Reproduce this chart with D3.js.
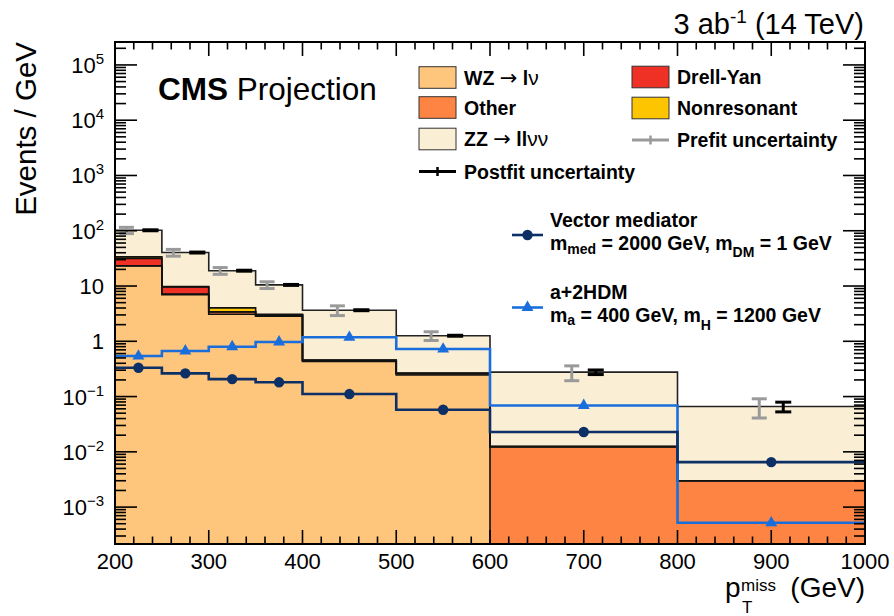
<!DOCTYPE html>
<html><head><meta charset="utf-8">
<script src="https://cdn.jsdelivr.net/npm/d3@7"></script>
<style>
body{margin:0;background:#fff}
svg{display:block}
text{font-family:"Liberation Sans",Arial,Helvetica,sans-serif;fill:#000}
</style>
</head><body>
<svg id="chart" width="894" height="616"></svg>
<script>
// ---------------- data ----------------
const binEdges   = [200, 250, 300, 350, 400, 500, 600, 800, 1000];
const wzValues   = [23.0, 7.0, 3.08, 2.85, 0.43, 0.245, 0, 0];
const otherValues= [0.3, 0.15, 0.32, 0.12, 0.02, 0.015, 0.0124, 0.003];
const dyValues   = [8.4, 2.45, 0.03, 0.03, 0.005, 0.002, 0, 0];
const nonresValues=[2.0, 0.15, 0.6, 0.07, 0.005, 0.003, 0, 0];
const zzValues   = [68.3, 30.6, 14.9, 7.4, 3.19, 0.995, 0.264, 0.063];
const prefitRel  = [0.13, 0.14, 0.14, 0.14, 0.20, 0.18, 0.30, 0.38];
const postfitRel = [0.02, 0.02, 0.02, 0.02, 0.02, 0.02, 0.095, 0.20];
const vectorMed  = [0.332, 0.263, 0.207, 0.181, 0.111, 0.0577, 0.0228, 0.00652];
const a2hdm      = [0.541, 0.667, 0.797, 0.97, 1.18, 0.724, 0.069, 0.00052];
const xTickValues = [200, 300, 400, 500, 600, 700, 800, 900, 1000];
const yTickExps   = [-3, -2, -1, 0, 1, 2, 3, 4, 5];
const layerNames  = ["WZ", "Other", "Drell-Yan", "Nonresonant", "ZZ"];

// ---------------- setup ----------------
const L = 115, R = 865, T = 42, B = 544;
const yMin = 2.15e-4, yMax = 2.6e5;
const svg = d3.select("#chart");
const x = d3.scaleLinear().domain([200, 1000]).range([L, R]);
const y = d3.scaleLog().domain([yMin, yMax]).range([B, T]);
const yc = v => y(Math.max(v, yMin));

const colors = {
  "WZ": "#fec57c", "Other": "#fd8442", "Drell-Yan": "#ee3124",
  "Nonresonant": "#fcc500", "ZZ": "#faeed4"
};
const layers = [wzValues, otherValues, dyValues, nonresValues, zzValues];
const nb = binEdges.length - 1;

svg.append("defs").append("clipPath").attr("id", "plotclip")
  .append("rect").attr("x", L).attr("y", T).attr("width", R - L).attr("height", B - T);
const plot = svg.append("g").attr("clip-path", "url(#plotclip)");

// cumulative stack
const cum = [];
let prev = new Array(nb).fill(0);
layers.forEach((vals, li) => {
  const top = vals.map((v, i) => prev[i] + v);
  cum.push({ name: layerNames[li], lo: prev.slice(), hi: top });
  prev = top;
});
const total = prev;

function stepData(lo, hi) {
  const pts = [];
  hi.forEach((v, i) => {
    pts.push({ x: x(binEdges[i]), lo: yc(lo[i]), hi: yc(v) });
    pts.push({ x: x(binEdges[i + 1]), lo: yc(lo[i]), hi: yc(v) });
  });
  return pts;
}
const area = d3.area().x(d => d.x).y0(d => d.lo).y1(d => d.hi);

cum.forEach(c => {
  plot.append("path").attr("d", area(stepData(c.lo, c.hi)))
    .attr("fill", colors[c.name]);
});

function stepPoints(vals) {
  const pts = [];
  vals.forEach((v, i) => {
    pts.push([x(binEdges[i]), yc(v)]);
    pts.push([x(binEdges[i + 1]), yc(v)]);
  });
  return pts;
}
const line = d3.line();

cum.forEach((c, li) => {
  plot.append("path").attr("d", line(stepPoints(c.hi)))
    .attr("fill", "none")
    .attr("stroke", li === cum.length - 1 ? "#222" : "#111")
    .attr("stroke-width", 1.6);
});

function signal(vals, color, marker) {
  plot.append("path").attr("d", line(stepPoints(vals)))
    .attr("fill", "none").attr("stroke", color).attr("stroke-width", 2.6);
  const cx = d3.range(nb).map(i => x((binEdges[i] + binEdges[i + 1]) / 2));
  if (marker === "circle") {
    plot.append("g").selectAll("circle").data(d3.range(nb)).join("circle")
      .attr("cx", i => cx[i]).attr("cy", i => yc(vals[i])).attr("r", 5.2)
      .attr("fill", color);
  } else {
    plot.append("g").selectAll("path").data(d3.range(nb)).join("path")
      .attr("d", d3.symbol(d3.symbolTriangle, 62))
      .attr("transform", i => `translate(${cx[i]},${yc(vals[i])})`)
      .attr("fill", color);
  }
}
signal(a2hdm, "#1a6edc", "triangle");
signal(vectorMed, "#0c2f66", "circle");

function ibar(g, cx, lo, hi, w, color) {
  const y1 = yc(lo), y2 = yc(hi);
  g.append("line").attr("x1", cx).attr("x2", cx).attr("y1", y1).attr("y2", y2)
    .attr("stroke", color).attr("stroke-width", 3);
  [y1, y2].forEach(yy => g.append("line").attr("x1", cx - w / 2).attr("x2", cx + w / 2)
    .attr("y1", yy).attr("y2", yy).attr("stroke", color).attr("stroke-width", 3));
}
const ug = plot.append("g");
d3.range(nb).forEach(i => {
  const cx = x((binEdges[i] + binEdges[i + 1]) / 2);
  ibar(ug, cx - 12, total[i] * (1 - prefitRel[i]), total[i] * (1 + prefitRel[i]), 15, "#9a9a9a");
  ibar(ug, cx + 12, total[i] * (1 - postfitRel[i]), total[i] * (1 + postfitRel[i]), 16, "#000");
});

// ---------------- axes ----------------
const ax = svg.append("g").attr("stroke", "#000").attr("stroke-width", 1.6);
d3.range(200, 1001, 20).forEach(v => {
  const major = v % 100 === 0;
  const len = major ? 14 : 7.5;
  ax.append("line").attr("x1", x(v)).attr("x2", x(v)).attr("y1", B).attr("y2", B - len);
  ax.append("line").attr("x1", x(v)).attr("x2", x(v)).attr("y1", T).attr("y2", T + len);
});
for (let e = -4; e <= 5; e++) {
  for (let m = 1; m <= 9; m++) {
    const v = m * Math.pow(10, e);
    if (v < yMin || v > yMax) continue;
    const len = m === 1 ? 22 : 11;
    ax.append("line").attr("x1", L).attr("x2", L + len).attr("y1", y(v)).attr("y2", y(v));
    ax.append("line").attr("x1", R).attr("x2", R - len).attr("y1", y(v)).attr("y2", y(v));
  }
}
svg.append("rect").attr("x", L).attr("y", T).attr("width", R - L).attr("height", B - T)
  .attr("fill", "none").attr("stroke", "#000").attr("stroke-width", 2);

svg.append("g").selectAll("text").data(xTickValues).join("text")
  .attr("x", d => x(d)).attr("y", 569).attr("text-anchor", "middle")
  .attr("font-size", 22).text(d => d);

yTickExps.forEach(e => {
  const t = svg.append("text").attr("x", 104).attr("y", y(Math.pow(10, e)) + 8)
    .attr("text-anchor", "end").attr("font-size", 22);
  if (e === 0) t.text("1");
  else if (e === 1) t.text("10");
  else {
    t.append("tspan").text("10");
    t.append("tspan").attr("font-size", 15).attr("dy", -9)
      .text(e < 0 ? "\u2212" + (-e) : String(e));
  }
});

svg.append("text").attr("transform", "translate(36,42) rotate(-90)")
  .attr("text-anchor", "end").attr("font-size", 29.5).text("Events / GeV");

svg.append("text").attr("x", 725).attr("y", 597).attr("font-size", 28).text("p");
svg.append("text").attr("x", 741).attr("y", 591).attr("font-size", 17).text("miss");
svg.append("text").attr("x", 742).attr("y", 613).attr("font-size", 17).text("T");
svg.append("text").attr("x", 865).attr("y", 597).attr("text-anchor", "end")
  .attr("font-size", 28).text("(GeV)");

const lum = svg.append("text").attr("x", 864).attr("y", 34).attr("text-anchor", "end").attr("font-size", 29);
lum.append("tspan").text("3 ab");
lum.append("tspan").attr("font-size", 19).attr("dy", -11).text("-1");
lum.append("tspan").attr("dy", 11).text(" (14 TeV)");

const cms = svg.append("text").attr("x", 158).attr("y", 100).attr("font-size", 31.5);
cms.append("tspan").attr("font-weight", "bold").text("CMS");
cms.append("tspan").text(" Projection");

// ---------------- legend ----------------
const lg = svg.append("g").attr("font-size", 19.5).attr("font-weight", "bold");
function legBox(bx, cy, color) {
  lg.append("rect").attr("x", bx).attr("y", cy - 10.8).attr("width", 37).attr("height", 21.6)
    .attr("fill", color).attr("stroke", "#333").attr("stroke-width", 1);
}
function legErr(bx, cy, color) {
  lg.append("line").attr("x1", bx).attr("x2", bx + 37).attr("y1", cy).attr("y2", cy)
    .attr("stroke", color).attr("stroke-width", 3);
  lg.append("line").attr("x1", bx + 18.5).attr("x2", bx + 18.5).attr("y1", cy - 4.5).attr("y2", cy + 4.5)
    .attr("stroke", color).attr("stroke-width", 2.5);
}
function legText(tx, cy, parts) {
  const t = lg.append("text").attr("x", tx).attr("y", cy + 7);
  parts.forEach(p => {
    const s = t.append("tspan").text(p.t);
    if (p.normal) s.attr("font-weight", "normal");
    if (p.size) s.attr("font-size", p.size);
    if (p.family) s.style("font-family", p.family);
  });
}
const arrowPart = {t: "\u2192", normal: true, size: 21, family: "'DejaVu Sans'"};
legBox(419, 77.5, colors["WZ"]);
legText(464, 77.5, [{t: "WZ "}, arrowPart, {t: " l"}, {t: "\u03bd", normal: true, size: 21}]);
legBox(419, 107.5, colors["Other"]);
legText(464, 107.5, [{t: "Other"}]);
legBox(419, 139, colors["ZZ"]);
legText(464, 139, [{t: "ZZ "}, arrowPart, {t: " ll"}, {t: "\u03bd\u03bd", normal: true, size: 21}]);
legErr(419, 171.5, "#000");
legText(464, 171.5, [{t: "Postfit uncertainty"}]);
legBox(632, 77, colors["Drell-Yan"]);
legText(677, 77, [{t: "Drell-Yan"}]);
legBox(632, 108, colors["Nonresonant"]);
legText(677, 108, [{t: "Nonresonant"}]);
legErr(632, 140, "#9a9a9a");
legText(677, 139.5, [{t: "Prefit uncertainty"}]);

function sigLeg(cy, color, marker) {
  lg.append("line").attr("x1", 512).attr("x2", 543).attr("y1", cy).attr("y2", cy)
    .attr("stroke", color).attr("stroke-width", 2.6);
  if (marker === "circle") lg.append("circle").attr("cx", 527.5).attr("cy", cy).attr("r", 5.2).attr("fill", color);
  else lg.append("path").attr("d", d3.symbol(d3.symbolTriangle, 62)).attr("transform", `translate(527.5,${cy})`).attr("fill", color);
}
sigLeg(235, "#0c2f66", "circle");
sigLeg(307.5, "#1a6edc", "triangle");
lg.append("text").attr("x", 550).attr("y", 227).text("Vector mediator");
{
  const t = lg.append("text").attr("x", 550).attr("y", 250);
  t.append("tspan").text("m");
  t.append("tspan").attr("font-size", 14).attr("dy", 4).text("med");
  t.append("tspan").attr("dy", -4).text(" = 2000 GeV, m");
  t.append("tspan").attr("font-size", 14).attr("dy", 7).text("DM");
  t.append("tspan").attr("dy", -7).text(" = 1 GeV");
}
lg.append("text").attr("x", 550).attr("y", 299).text("a+2HDM");
{
  const t = lg.append("text").attr("x", 550).attr("y", 322);
  t.append("tspan").text("m");
  t.append("tspan").attr("font-size", 14).attr("dy", 3).text("a");
  t.append("tspan").attr("dy", -3).text(" = 400 GeV, m");
  t.append("tspan").attr("font-size", 14).attr("dy", 8).text("H");
  t.append("tspan").attr("dy", -8).text(" = 1200 GeV");
}
</script>
</body></html>
